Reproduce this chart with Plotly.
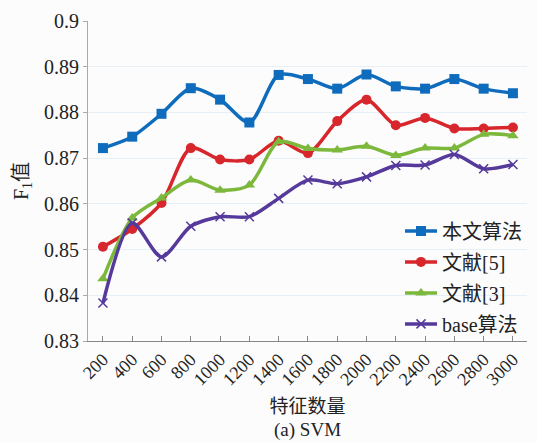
import plotly.graph_objects as go

# Feature counts on the x axis
features = [200, 400, 600, 800, 1000, 1200, 1400, 1600, 1800, 2000, 2200, 2400, 2600, 2800, 3000]
tick_labels = [str(v) for v in features]

# F1 scores per method (SVM classifier)
ours = [0.8722, 0.8747, 0.8797, 0.8853, 0.8828, 0.8778, 0.8882, 0.8873, 0.8852, 0.8883,
        0.8857, 0.8852, 0.8873, 0.8852, 0.8842]
ref5 = [0.8506, 0.8545, 0.8602, 0.8722, 0.8697, 0.8697, 0.8738, 0.8711, 0.8781, 0.8828,
        0.8772, 0.8788, 0.8765, 0.8765, 0.8767]
ref3 = [0.8436, 0.8569, 0.8613, 0.8652, 0.8630, 0.8641, 0.8736, 0.8721, 0.8718, 0.8726,
        0.8706, 0.8722, 0.8722, 0.8752, 0.8749]
base = [0.8383, 0.8558, 0.8484, 0.8551, 0.8572, 0.8572, 0.8612, 0.8652, 0.8644, 0.8659,
        0.8684, 0.8685, 0.8708, 0.8677, 0.8686]

y_ticks = [0.83, 0.84, 0.85, 0.86, 0.87, 0.88, 0.89, 0.9]
y_labels = ["0.83", "0.84", "0.85", "0.86", "0.87", "0.88", "0.89", "0.9"]

series = [
    ("本文算法", ours, "#0f6cbd", "square", 10, 0),
    ("文献[5]", ref5, "#d7262c", "circle", 10, 0),
    ("文献[3]", ref3, "#7cb83b", "triangle-up", 10, 0),
    ("base算法", base, "#55399b", "x-thin", 9, 1.5),
]

SERIF = '"Liberation Serif", "Noto Sans CJK SC", serif'
INK = "#222222"

fig = go.Figure()
for i, (name, vals, color, symbol, size, lw) in enumerate(series):
    fig.add_trace(go.Scatter(
        x=features, y=vals, name=name, mode="lines+markers",
        legendgroup=f"g{i}",
        line=dict(color=color, width=3.5, shape="spline", smoothing=0.8),
        marker=dict(symbol=symbol, size=size, color=color,
                    line=dict(color=color, width=lw)),
    ))

fig.update_layout(
    width=537, height=443,
    margin=dict(l=88, r=10, t=17, b=102),
    paper_bgcolor="#fcfcfc", plot_bgcolor="#fcfcfc",
    font=dict(family=SERIF, size=19, color=INK),
    showlegend=True,
    legend=dict(
        x=1.0, xanchor="right", y=0.405, yanchor="top",
        bgcolor="rgba(0,0,0,0)", tracegroupgap=2,
        font=dict(family=SERIF, size=20, color=INK),
        itemwidth=32,
    ),
    xaxis=dict(
        range=[98, 3096],
        tickmode="array", tickvals=features, ticktext=tick_labels,
        tickangle=-45, tickfont=dict(family=SERIF, size=18, color=INK),
        ticks="inside", ticklen=5, tickcolor="#888888",
        showline=True, linecolor="#888888", linewidth=1,
        showgrid=False, zeroline=False,
        title=dict(text="特征数量", font=dict(family=SERIF, size=19, color=INK), standoff=11),
    ),
    yaxis=dict(
        range=[0.83, 0.9],
        tickmode="array", tickvals=y_ticks, ticktext=y_labels,
        tickfont=dict(family=SERIF, size=20, color=INK),
        ticks="outside", ticklen=4, tickcolor="#aaaaaa",
        showline=True, linecolor="#aaaaaa", linewidth=1,
        showgrid=True, gridcolor="#e6f0f6", gridwidth=1,
        zeroline=False,
        title=dict(text="F<sub>1</sub>值", font=dict(family=SERIF, size=20, color=INK), standoff=10),
    ),
)

fig.add_annotation(
    text="(a) SVM", xref="paper", yref="paper", x=0.5, y=0,
    yshift=-89, yanchor="middle", showarrow=False,
    font=dict(family=SERIF, size=19, color=INK),
)

fig.write_html("out.html")
